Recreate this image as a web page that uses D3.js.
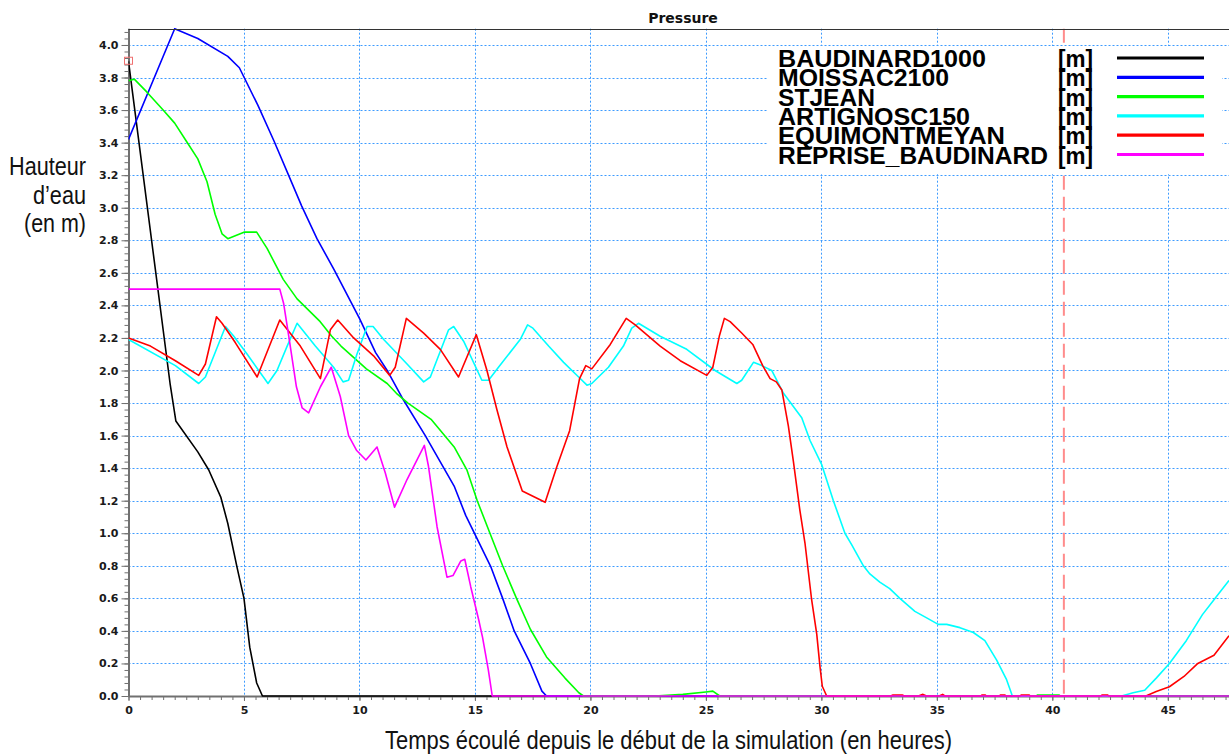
<!DOCTYPE html>
<html>
<head>
<meta charset="utf-8">
<script src="https://cdn.jsdelivr.net/npm/d3@7"></script>
<style>
  html, body { margin: 0; padding: 0; background: #fff; }
  svg { display: block; }
</style>
</head>
<body>
<svg id="chart" width="1229" height="756"></svg>
<script>
// Water level series: [hours since start of simulation, height in m]
const baudinard1000 = [[0,3.90],[1.80,1.92],[2.05,1.69],[3.0,1.50],[3.47,1.39],[4.0,1.22],[4.3,1.06],[4.7,0.79],[5.0,0.60],[5.25,0.30],[5.55,0.08],[5.8,0],[47.65,0]];

const moissac2100 = [[0,3.42],[2.0,4.10],[3.0,4.04],[4.3,3.93],[4.8,3.86],[5.6,3.63],[6.3,3.41],[6.87,3.22],[7.5,3.01],[8.16,2.81],[8.9,2.62],[10.0,2.32],[10.7,2.11],[11.2,2.00],[11.9,1.82],[12.85,1.60],[14.1,1.29],[14.6,1.11],[15.7,0.79],[16.2,0.60],[16.7,0.40],[17.4,0.20],[17.9,0.03],[18.1,0],[47.65,0]];

const stjean = [[0,3.78],[0.25,3.79],[0.8,3.71],[1.5,3.60],[2.0,3.52],[2.5,3.41],[3.0,3.30],[3.4,3.16],[3.75,2.96],[4.05,2.84],[4.3,2.81],[5.0,2.85],[5.55,2.85],[6.0,2.75],[6.7,2.56],[7.3,2.44],[8.3,2.30],[8.8,2.21],[9.2,2.15],[10.3,2.01],[11.2,1.92],[11.6,1.86],[12.1,1.80],[13.1,1.70],[14.1,1.53],[14.65,1.39],[15.1,1.20],[15.65,1.00],[16.2,0.80],[16.8,0.60],[17.4,0.41],[18.1,0.24],[18.9,0.11],[19.5,0.02],[19.7,0],[22.8,0],[24.0,0.01],[25.0,0.025],[25.3,0.03],[25.6,0],[39.3,0],[39.35,0.006],[40.3,0.006],[40.35,0],[47.65,0]];

const artignosc150 = [[0,2.19],[2.03,2.03],[3.04,1.92],[3.33,1.96],[4.2,2.27],[4.56,2.21],[5.14,2.10],[6.04,1.92],[6.43,2.00],[6.87,2.15],[7.3,2.29],[8.09,2.15],[8.88,2.02],[9.29,1.93],[9.53,1.94],[9.89,2.10],[10.33,2.27],[10.59,2.27],[11.05,2.19],[12.06,2.04],[12.78,1.93],[13.07,1.96],[13.86,2.25],[14.08,2.27],[14.51,2.18],[15.3,1.94],[15.59,1.94],[16.02,2.02],[16.96,2.19],[17.28,2.28],[17.51,2.26],[18.19,2.15],[18.84,2.05],[19.49,1.96],[19.85,1.91],[20.06,1.92],[20.78,2.02],[21.43,2.15],[21.79,2.26],[22.08,2.29],[23.02,2.21],[24.17,2.13],[25.4,2.00],[26.34,1.92],[26.55,1.94],[27.06,2.05],[27.42,2.03],[27.85,2.00],[28.36,1.86],[29.15,1.71],[29.51,1.57],[30.02,1.42],[30.52,1.20],[31.02,1.00],[31.31,0.93],[31.82,0.80],[32.1,0.75],[32.53,0.70],[32.96,0.66],[33.4,0.60],[34.05,0.52],[34.56,0.48],[35.06,0.44],[35.43,0.44],[36.0,0.42],[36.58,0.39],[37.08,0.34],[37.59,0.22],[38.02,0.10],[38.27,0],[43.0,0],[43.5,0.02],[44.0,0.035],[44.5,0.11],[45.07,0.20],[45.8,0.34],[46.5,0.50],[47.1,0.61],[47.65,0.71]];

const equimontmeyan = [[0,2.20],[0.95,2.15],[2.03,2.06],[3.04,1.97],[3.33,2.04],[3.81,2.33],[4.05,2.29],[4.63,2.17],[5.57,1.96],[6.55,2.31],[7.44,2.15],[8.31,1.95],[8.74,2.25],[9.06,2.31],[9.75,2.20],[10.61,2.09],[11.31,1.97],[11.55,2.02],[12.03,2.32],[12.78,2.23],[13.5,2.13],[14.29,1.96],[15.06,2.22],[15.52,2.00],[15.95,1.76],[16.39,1.53],[17.05,1.26],[18.04,1.19],[18.55,1.41],[19.1,1.63],[19.53,1.95],[19.8,2.03],[20.06,2.01],[20.86,2.16],[21.55,2.32],[21.94,2.28],[23.02,2.15],[23.89,2.06],[25.04,1.97],[25.3,2.02],[25.58,2.21],[25.8,2.32],[26.05,2.30],[26.55,2.23],[27.03,2.16],[27.46,2.03],[27.78,1.95],[28.05,1.93],[28.29,1.88],[28.57,1.66],[28.79,1.44],[29.07,1.14],[29.29,0.94],[29.58,0.59],[29.8,0.38],[29.94,0.18],[30.04,0.06],[30.23,0],[33.0,0],[33.1,0.006],[33.5,0.006],[33.6,0],[34.2,0],[34.4,0.01],[34.55,0],[35.1,0],[35.25,0.01],[35.35,0],[36.9,0],[36.95,0.006],[37.1,0.006],[37.15,0],[37.7,0],[37.75,0.006],[37.95,0.006],[38.0,0],[38.6,0],[38.65,0.006],[39.0,0.006],[39.05,0],[42.1,0],[42.15,0.006],[42.4,0.006],[42.45,0],[44.05,0],[44.5,0.027],[45.07,0.057],[45.7,0.12],[46.3,0.20],[47.0,0.25],[47.65,0.37]];

const repriseBaudinard = [[0,2.50],[6.55,2.50],[6.72,2.41],[6.94,2.21],[7.27,1.90],[7.52,1.77],[7.8,1.74],[8.31,1.90],[8.78,2.02],[9.17,1.84],[9.53,1.60],[9.87,1.51],[10.28,1.45],[10.76,1.53],[11.12,1.37],[11.52,1.16],[12.06,1.33],[12.81,1.54],[12.99,1.41],[13.36,1.04],[13.79,0.73],[14.05,0.74],[14.39,0.83],[14.56,0.84],[14.82,0.67],[15.16,0.47],[15.33,0.36],[15.58,0.16],[15.75,0],[47.65,0]];

const seriesNames = ["BAUDINARD1000","MOISSAC2100","STJEAN","ARTIGNOSC150","EQUIMONTMEYAN","REPRISE_BAUDINARD"];
const seriesUnits = ["[m]","[m]","[m]","[m]","[m]","[m]"];
const seriesData = [baudinard1000, moissac2100, stjean, artignosc150, equimontmeyan, repriseBaudinard];
const seriesColors = ["#000000","#0000ff","#00ff00","#00ffff","#ff0000","#ff00ff"];

const xTicks = [0,5,10,15,20,25,30,35,40,45];
const yTicks = [0,0.2,0.4,0.6,0.8,1.0,1.2,1.4,1.6,1.8,2.0,2.2,2.4,2.6,2.8,3.0,3.2,3.4,3.6,3.8,4.0];
const markerTime = 40.5;      // vertical reference marker (hours)
const startPoint = [0, 3.9];  // highlighted initial point

const chartTitle = "Pressure";
const xTitle = "Temps écoulé depuis le début de la simulation (en heures)";
const yTitleLines = ["Hauteur", "d’eau", "(en m)"];

(function draw() {
  // ---- layout ----
  const svg = d3.select("#chart");
  const pLeft = 128.5, pRight = 1229, pTop = 28.7, pBottom = 696;
  const x = d3.scaleLinear().domain([0, 47.65]).range([pLeft, pRight]);
  const y = d3.scaleLinear().domain([0, 4.1]).range([pBottom, pTop]);

  svg.append("defs").append("clipPath").attr("id", "plotClip")
    .append("rect").attr("x", pLeft).attr("y", pTop - 1)
    .attr("width", pRight - pLeft).attr("height", pBottom - pTop + 2);

  // title
  svg.append("text").attr("x", 683).attr("y", 23)
    .attr("text-anchor", "middle")
    .style("font-family", "'DejaVu Sans', Verdana, sans-serif")
    .style("font-weight", "bold").style("font-size", "14px").style("fill", "#111")
    .text(chartTitle);

  // grid
  const gridColor = "#3d9bff";
  const grid = svg.append("g");
  grid.selectAll("line.hg").data(yTicks.filter(d => d > 0)).join("line")
    .attr("x1", pLeft).attr("x2", pRight)
    .attr("y1", d => Math.round(y(d)) + 0.5).attr("y2", d => Math.round(y(d)) + 0.5)
    .attr("stroke", gridColor).attr("stroke-width", 1).attr("stroke-dasharray", "2,2");
  grid.selectAll("line.vg").data(xTicks.filter(d => d > 0)).join("line")
    .attr("y1", pTop).attr("y2", pBottom)
    .attr("x1", d => Math.round(x(d)) + 0.5).attr("x2", d => Math.round(x(d)) + 0.5)
    .attr("stroke", gridColor).attr("stroke-width", 1).attr("stroke-dasharray", "2,2");

  // vertical reference marker
  svg.append("line")
    .attr("x1", x(markerTime)).attr("x2", x(markerTime))
    .attr("y1", pTop).attr("y2", pBottom)
    .attr("stroke", "#ff8c8c").attr("stroke-width", 2).attr("stroke-dasharray", "14,7");

  // series
  const line = d3.line().x(d => x(d[0])).y(d => y(d[1]));
  const drawSeries = g => seriesData.forEach((data, i) => {
    g.append("path").datum(data)
      .attr("d", line)
      .attr("fill", "none")
      .attr("stroke", seriesColors[i])
      .attr("stroke-width", 1.6)
      .attr("stroke-linejoin", "round");
  });

  // axes (drawn under the series so the zero-level lines stay visible)
  const axisColor = "#707070";
  const tickFont = g => g.selectAll("text")
    .style("font-family", "'DejaVu Sans', Verdana, sans-serif")
    .style("font-weight", "bold").style("font-size", "11px").style("fill", "#1a1a1a");

  const yMinor = svg.append("g").attr("transform", `translate(${pLeft},0)`)
    .call(d3.axisLeft(y).tickValues(d3.range(0, 103).map(k => k * 0.04)).tickSize(4).tickFormat(""));
  yMinor.select(".domain").remove();
  yMinor.selectAll("line").attr("stroke", axisColor);

  const yAxis = svg.append("g").attr("transform", `translate(${pLeft},0)`)
    .call(d3.axisLeft(y).tickValues(yTicks).tickSize(7).tickPadding(3).tickFormat(d3.format(".1f")));
  yAxis.select(".domain").attr("stroke", axisColor).attr("stroke-width", 2).attr("d", `M0.5,${pTop}V${pBottom}`);
  yAxis.selectAll("line").attr("stroke", axisColor);
  yAxis.call(tickFont);

  const xMinor = svg.append("g").attr("transform", `translate(0,${pBottom})`)
    .call(d3.axisBottom(x).tickValues(d3.range(0, 96).map(k => k * 0.5)).tickSize(4).tickFormat(""));
  xMinor.select(".domain").remove();
  xMinor.selectAll("line").attr("stroke", axisColor);

  const xAxis = svg.append("g").attr("transform", `translate(0,${pBottom})`)
    .call(d3.axisBottom(x).tickValues(xTicks).tickSize(5).tickPadding(5).tickFormat(d3.format("d")));
  xAxis.select(".domain").attr("stroke", axisColor).attr("stroke-width", 2).attr("d", `M${pLeft},0.5H${pRight}`);
  xAxis.selectAll("line").attr("stroke", axisColor);
  xAxis.call(tickFont);

  const plot = svg.append("g").attr("clip-path", "url(#plotClip)");
  drawSeries(plot);

  // highlighted start point
  svg.append("rect")
    .attr("x", x(startPoint[0]) - 4).attr("y", y(startPoint[1]) - 4)
    .attr("width", 8).attr("height", 7)
    .attr("fill", "none").attr("stroke", "#f07070").attr("stroke-width", 1);

  // legend
  const legend = svg.append("g");
  legend.append("rect").attr("x", 768).attr("y", 46).attr("width", 454).attr("height", 128).attr("fill", "#fff");
  const nameWidths = [208, 171, 97, 192, 227, 270];
  const rowBase = 67, rowStep = 19.3;
  seriesNames.forEach((name, i) => {
    const by = rowBase + i * rowStep;
    legend.append("text").attr("x", 778).attr("y", by)
      .attr("textLength", nameWidths[i]).attr("lengthAdjust", "spacingAndGlyphs")
      .style("font-family", "'Liberation Sans', Arial, sans-serif")
      .style("font-weight", "bold").style("font-size", "24px").style("fill", "#000")
      .text(name);
    legend.append("text").attr("x", 1058).attr("y", by)
      .attr("textLength", 35).attr("lengthAdjust", "spacingAndGlyphs")
      .style("font-family", "'Liberation Sans', Arial, sans-serif")
      .style("font-weight", "bold").style("font-size", "24px").style("fill", "#000")
      .text(seriesUnits[i]);
    legend.append("line").attr("x1", 1117).attr("x2", 1204)
      .attr("y1", by - 9).attr("y2", by - 9)
      .attr("stroke", seriesColors[i]).attr("stroke-width", 3.2);
  });

  // top border
  svg.append("line").attr("x1", pLeft).attr("x2", pRight).attr("y1", 29.5).attr("y2", 29.5)
    .attr("stroke", "#333").attr("stroke-width", 1.2);

  // axis titles
  const narrow = "'Liberation Sans Narrow', 'Arial Narrow', 'Liberation Sans', Arial, sans-serif";
  const yTitleWidths = [77, 53, 62];
  const yTitleBase = [175, 204, 232];
  yTitleLines.forEach((t, i) => {
    svg.append("text").attr("x", 86).attr("y", yTitleBase[i])
      .attr("text-anchor", "end")
      .attr("textLength", yTitleWidths[i]).attr("lengthAdjust", "spacingAndGlyphs")
      .style("font-family", narrow).style("font-size", "25px").style("fill", "#111")
      .text(t);
  });
  svg.append("text").attr("x", 668.5).attr("y", 749)
    .attr("text-anchor", "middle")
    .attr("textLength", 567).attr("lengthAdjust", "spacingAndGlyphs")
    .style("font-family", narrow).style("font-size", "25px").style("fill", "#111")
    .text(xTitle);
})();
</script>
</body>
</html>
